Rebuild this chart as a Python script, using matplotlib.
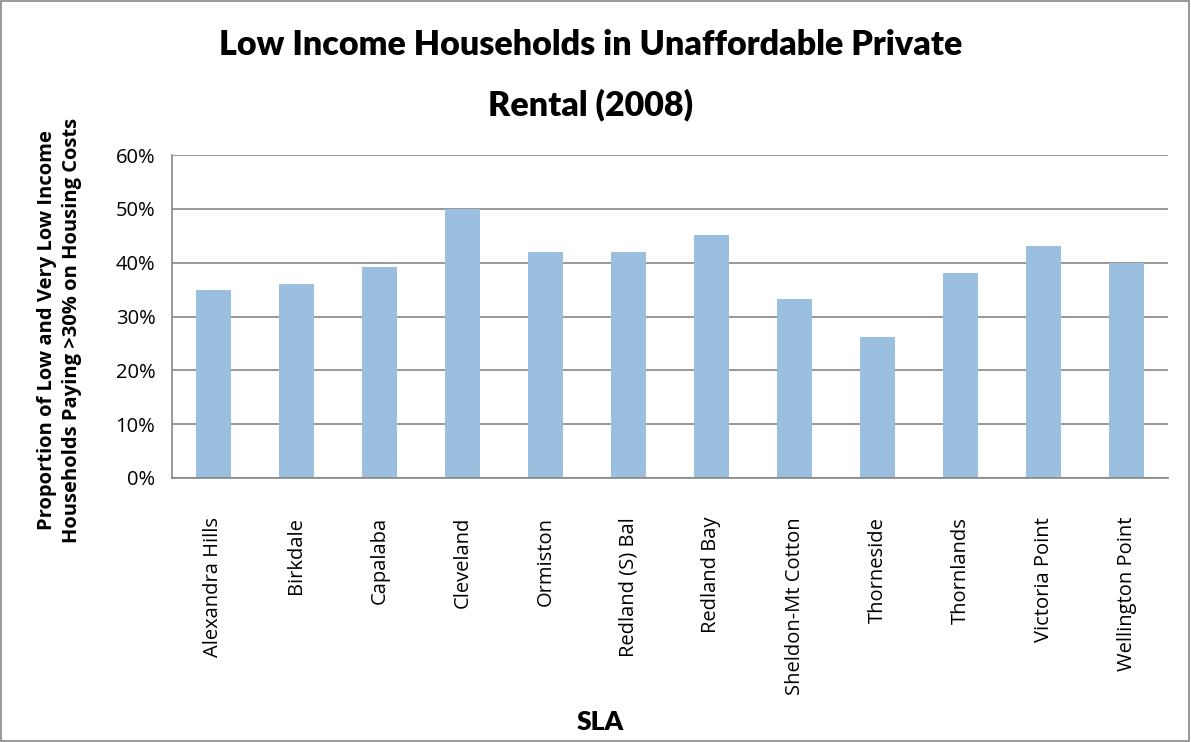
import matplotlib
matplotlib.use("Agg")
import matplotlib.pyplot as plt
from matplotlib.patches import Rectangle
from matplotlib.ticker import PercentFormatter

areas = ["Alexandra Hills", "Birkdale", "Capalaba", "Cleveland", "Ormiston",
         "Redland (S) Bal", "Redland Bay", "Sheldon-Mt Cotton", "Thorneside",
         "Thornlands", "Victoria Point", "Wellington Point"]
share = [0.35, 0.36, 0.392, 0.50, 0.42, 0.42, 0.451, 0.333, 0.262, 0.381, 0.431, 0.40]
yticks = [0, 0.1, 0.2, 0.3, 0.4, 0.5, 0.6]

fig = plt.figure(figsize=(11.91, 7.42), dpi=100)
ax = fig.add_axes([0.1444, 0.3558, 0.8363, 0.4353])

ax.bar(range(len(areas)), share, width=0.42, color="#9bbfdf", zorder=2)
ax.set_xlim(-0.5, len(areas) - 0.5)
ax.set_ylim(0, 0.6)
ax.set_yticks(yticks)
ax.yaxis.set_major_formatter(PercentFormatter(1.0, decimals=0))
ax.grid(axis="y", color="#868686", linewidth=1.2, zorder=0)
ax.set_xticks(range(len(areas)))
ax.set_xticklabels(areas, rotation=90, family="Open Sans", fontsize=14.5)
for lab in ax.get_yticklabels():
    lab.set_family("Open Sans")
    lab.set_fontsize(14.5)
ax.tick_params(axis="x", length=0, pad=28)
ax.tick_params(axis="y", length=0, pad=12)
for side in ["top", "right"]:
    ax.spines[side].set_visible(False)
for side in ["left", "bottom"]:
    ax.spines[side].set_color("#868686")
    ax.spines[side].set_linewidth(1.2)

fig.text(0.496, 0.94, "Low Income Households in Unaffordable Private",
         ha="center", va="center", family="Lato", weight="heavy", fontsize=24.5)
fig.text(0.496, 0.858, "Rental (2008)",
         ha="center", va="center", family="Lato", weight="heavy", fontsize=24.5)
fig.text(0.05, 0.555, "Proportion of Low and Very Low Income\nHouseholds Paying >30% on Housing Costs",
         ha="center", va="center", rotation=90, family="Open Sans", weight="bold",
         fontsize=14.5, linespacing=1.35)
fig.text(0.504, 0.027, "SLA", ha="center", va="center", family="Lato",
         weight="heavy", fontsize=19)

fig.patches.append(Rectangle((0.001, 0.001), 0.997, 0.997, transform=fig.transFigure,
                             fill=False, edgecolor="#868686", linewidth=1.2))

fig.savefig("out.png", dpi=100)
